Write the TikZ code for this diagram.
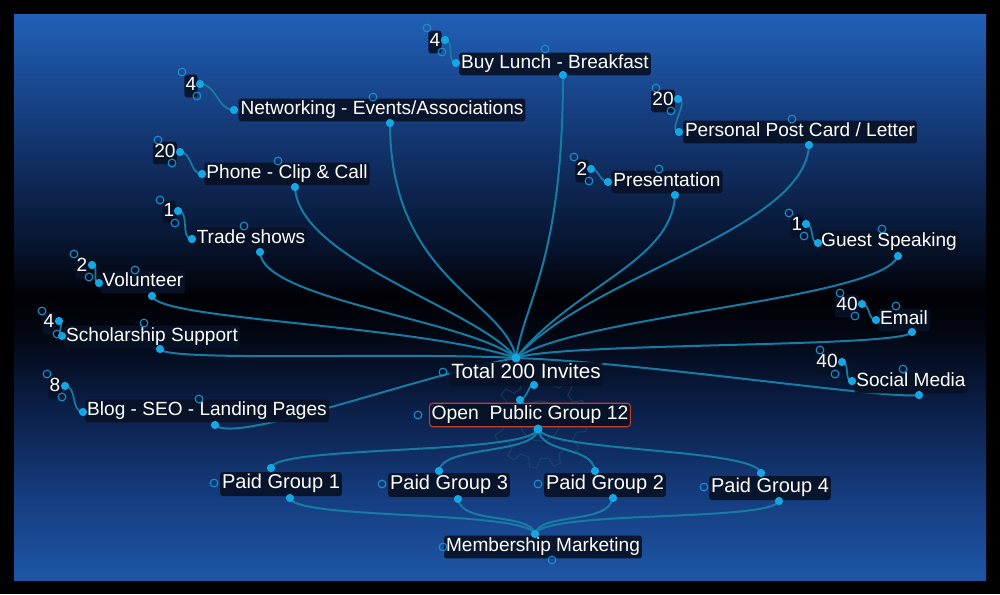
\documentclass[tikz,border=0pt]{standalone}
\usepackage{fontspec}
\setmainfont{Liberation Sans}
\definecolor{cb0}{RGB}{30,86,166}
\definecolor{cb1}{RGB}{22,62,130}
\definecolor{cb2}{RGB}{10,28,66}
\definecolor{cb3}{RGB}{2,6,16}
\definecolor{cb4}{RGB}{0,1,6}
\definecolor{cb5}{RGB}{6,18,42}
\definecolor{cb6}{RGB}{18,50,106}
\definecolor{cb7}{RGB}{33,96,184}
\definecolor{nodebg}{RGB}{8,18,38}
\definecolor{linec}{RGB}{22,124,164}
\definecolor{dotc}{RGB}{22,166,226}
\definecolor{holc}{RGB}{26,140,200}
\definecolor{redb}{RGB}{196,62,42}
\definecolor{gearc}{RGB}{32,96,130}
\pgfdeclareverticalshading{panelshade}{100bp}{color(0bp)=(cb0); color(25bp)=(cb0); color(32bp)=(cb1); color(41bp)=(cb2); color(47bp)=(cb3); color(50bp)=(cb4); color(54bp)=(cb5); color(63bp)=(cb6); color(75bp)=(cb7); color(100bp)=(cb7)}
\pgfdeclarelayer{back}
\pgfdeclarelayer{wires}
\pgfsetlayers{back,wires,main}
\begin{document}
\begin{tikzpicture}[x=0.75pt,y=-0.75pt,
  lbl/.style={fill=nodebg, fill opacity=0.92, text opacity=1, text=white, rounded corners=2.2pt,
    inner xsep=1.5pt, inner ysep=1.6pt, text height=10.4pt, text depth=3.6pt, font=\fontsize{14.3}{16}\selectfont},
  num/.style={lbl, inner xsep=1pt},
  big/.style={lbl, font=\fontsize{15}{17}\selectfont, text height=11pt, text depth=3.8pt},
  dot/.style={circle, fill=dotc, inner sep=0pt, minimum size=6.2pt},
  hol/.style={circle, draw=holc, line width=0.85pt, inner sep=0pt, minimum size=5.8pt},
  wire/.style={draw=linec, line width=1.5pt},
  thin/.style={draw=linec, line width=1.3pt}]
\useasboundingbox (0,0) rectangle (1000,594);
\begin{pgfonlayer}{back}
  \fill[black] (0,0) rectangle (1000,594);
  \shade[shading=panelshade] (14,14) rectangle (986,580);
  \begin{scope}[shift={(540,421)}]
    \draw[gearc, opacity=0.4, line width=0.8pt] (0:38) \foreach \a in {0,30,...,330}{ -- (\a+4:47) -- (\a+13:47) -- (\a+17:38) -- (\a+30:38)} -- cycle;
    \draw[gearc, opacity=0.4, line width=0.8pt] (0,0) circle[radius=20];
  \end{scope}
\end{pgfonlayer}

% labels
\node[lbl] (bl) at (555,64) {Buy Lunch - Breakfast};
\node[num] (bl-n) at (435,42) {4};
\node[lbl] (nw) at (382,110) {Networking - Events/Associations};
\node[num] (nw-n) at (191,86) {4};
\node[lbl] (pc) at (800,132) {Personal Post Card / Letter};
\node[num] (pc-n) at (663,101) {20};
\node[lbl] (ph) at (287,174) {Phone - Clip \& Call};
\node[num] (ph-n) at (165,153) {20};
\node[lbl] (pr) at (667,182) {Presentation};
\node[num] (pr-n) at (582,171) {2};
\node[lbl] (ts) at (251,239) {Trade shows};
\node[num] (ts-n) at (169,212) {1};
\node[lbl] (gs) at (889,242) {Guest Speaking};
\node[num] (gs-n) at (797,226) {1};
\node[lbl] (vo) at (143,282) {Volunteer};
\node[num] (vo-n) at (82,267) {2};
\node[lbl] (em) at (904,320) {Email};
\node[num] (em-n) at (847,306) {40};
\node[lbl] (sc) at (152,337) {Scholarship Support};
\node[num] (sc-n) at (49,323) {4};
\node[lbl] (sm) at (911,382) {Social Media};
\node[num] (sm-n) at (827,363) {40};
\node[lbl] (bs) at (207,411) {Blog - SEO - Landing Pages};
\node[num] (bs-n) at (55,387) {8};
\node[lbl, font=\fontsize{15.5}{18}\selectfont, text height=11.2pt, text depth=3.8pt] (tot) at (526,374) {Total 200 Invites};
\node[lbl, draw=redb, line width=0.8pt, text opacity=1, draw opacity=1, font=\fontsize{14.5}{17}\selectfont, text height=10.8pt] (opg) at (530,415) {Open\ \ Public Group 12};
\node[big] (pg1) at (281,484) {Paid Group 1};
\node[big] (pg3) at (449,485) {Paid Group 3};
\node[big] (pg2) at (605,485) {Paid Group 2};
\node[big] (pg4) at (770,488) {Paid Group 4};
\node[lbl] (mm) at (543,547) {Membership Marketing};

% dots: left (l), bottom (b), number (d); hollows: top (h), (h2), (h3)
\foreach \n/\lx/\ly/\bx/\by/\dx/\dy/\hx/\hy/\ax/\ay/\cx/\cy in {
  bl/456/63/563/75/445/40/545/49/427/28/442/52,
  nw/234/110/390/123/200/84/373/97/182/72/197/96,
  pc/679/132/809/145/678/99/792/119/656/88/671/111,
  ph/202/174/295/187/180/152/278/161/158/140/172/163,
  pr/608/182/675/195/591/169/659/169/574/157/589/181,
  ts/192/239/260/252/178/211/244/226/160/200/175/223,
  gs/818/243/898/256/806/224/882/229/789/213/804/236,
  vo/99/283/152/296/92/265/135/270/74/254/89/277,
  em/876/320/912/332/862/304/896/306/840/293/855/316,
  sc/62/336/160/349/59/321/144/323/42/311/57/334,
  sm/852/381/919/395/842/362/903/369/820/350/835/374,
  bs/83/412/215/425/65/386/199/399/47/374/62/397}{
  \node[dot] (\n-l) at (\lx,\ly) {};
  \node[dot] (\n-b) at (\bx,\by) {};
  \node[dot] (\n-d) at (\dx,\dy) {};
  \node[hol] (\n-h) at (\hx,\hy) {};
  \node[hol] (\n-h2) at (\ax,\ay) {};
  \node[hol] (\n-h3) at (\cx,\cy) {};
}
\node[dot, minimum size=6.8pt] (tot-t) at (516,358) {};
\node[dot] (tot-b) at (534,385) {};
\node[hol] (tot-h) at (443,372) {};
\node[dot] (opg-t) at (520,400) {};
\node[dot, minimum size=6.8pt] (opg-b) at (538,429) {};
\node[hol] (opg-h) at (418,415) {};
\node[dot] (pg1-t) at (271,468) {};
\node[dot] (pg1-b) at (290,498) {};
\node[hol] (pg1-h) at (214,483) {};
\node[dot] (pg3-t) at (439,471) {};
\node[dot] (pg3-b) at (458,499) {};
\node[hol] (pg3-h) at (382,484) {};
\node[dot] (pg2-t) at (595,471) {};
\node[dot] (pg2-b) at (613,498) {};
\node[hol] (pg2-h) at (538,484) {};
\node[dot] (pg4-t) at (761,473) {};
\node[dot] (pg4-b) at (779,501) {};
\node[hol] (pg4-h) at (704,487) {};
\node[dot] (mm-t) at (535,534) {};
\node[hol] (mm-h) at (443,547) {};
\node[hol] (mm-h2) at (552,560) {};

\begin{pgfonlayer}{wires}
  % number to label squiggles
  \foreach \n in {bl,nw,pc,ph,pr,ts,gs,vo,em,sc,sm,bs}
    \draw[thin] (\n-d.center) to[out=0,in=180] (\n-l.center);
  \draw[thin] (tot-b.center) to[out=110,in=10] (opg-t.center);
  % branches to the hub
  \draw[wire] (bl-b.center) .. controls (563,260) and (525,300) .. (tot-t.center);
  \draw[wire] (nw-b.center) .. controls (390,280) and (505,300) .. (tot-t.center);
  \draw[wire] (ph-b.center) .. controls (298,260) and (480,310) .. (tot-t.center);
  \draw[wire] (ts-b.center) .. controls (262,300) and (470,320) .. (tot-t.center);
  \draw[wire] (vo-b.center) .. controls (158,320) and (420,325) .. (tot-t.center);
  \draw[wire] (sc-b.center) .. controls (165,362) and (400,352) .. (tot-t.center);
  \draw[wire] (bs-b.center) .. controls (235,445) and (420,375) .. (tot-t.center);
  \draw[wire] (pr-b.center) .. controls (672,262) and (575,285) .. (tot-t.center);
  \draw[wire] (pc-b.center) .. controls (805,230) and (590,275) .. (tot-t.center);
  \draw[wire] (gs-b.center) .. controls (880,300) and (580,315) .. (tot-t.center);
  \draw[wire] (em-b.center) .. controls (905,348) and (560,342) .. (tot-t.center);
  \draw[wire] (sm-b.center) .. controls (890,400) and (640,362) .. (tot-t.center);
  % open group to paid groups
  \draw[wire] (opg-b.center) .. controls (530,455) and (275,445) .. (pg1-t.center);
  \draw[wire] (opg-b.center) .. controls (535,455) and (442,445) .. (pg3-t.center);
  \draw[wire] (opg-b.center) .. controls (542,455) and (592,445) .. (pg2-t.center);
  \draw[wire] (opg-b.center) .. controls (548,452) and (755,448) .. (pg4-t.center);
  % paid groups to membership
  \draw[wire] (pg1-b.center) .. controls (295,520) and (525,510) .. (mm-t.center);
  \draw[wire] (pg3-b.center) .. controls (462,525) and (530,512) .. (mm-t.center);
  \draw[wire] (pg2-b.center) .. controls (608,525) and (540,512) .. (mm-t.center);
  \draw[wire] (pg4-b.center) .. controls (770,522) and (545,510) .. (mm-t.center);
\end{pgfonlayer}
\end{tikzpicture}
\end{document}
